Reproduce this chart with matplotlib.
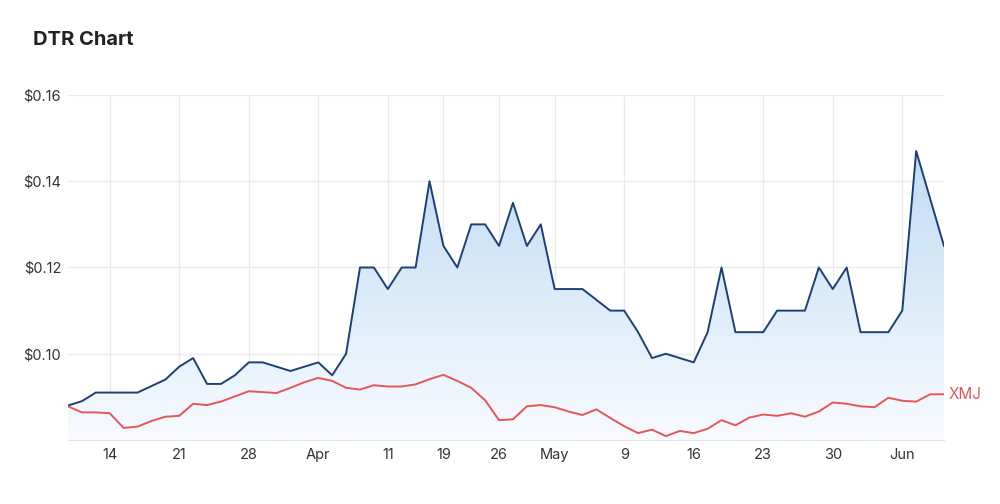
import numpy as np
import matplotlib
matplotlib.use("Agg")
import matplotlib.pyplot as plt
from matplotlib.colors import LinearSegmentedColormap

plt.rcParams['font.family'] = ['Inter', 'DejaVu Sans']

# ASX trading days, 9 Mar 2022 - 9 Jun 2022 (index based x axis)
tick_idx = [3, 8, 13, 18, 23, 27, 31, 35, 40, 45, 50, 55, 60]
tick_labels = ["14", "21", "28", "Apr", "11", "19", "26", "May", "9", "16", "23", "30", "Jun"]

dtr = [0.088, 0.089, 0.091, 0.091, 0.091, 0.091, 0.0925, 0.094, 0.097, 0.099,
       0.093, 0.093, 0.095, 0.098, 0.098, 0.097, 0.096, 0.097, 0.098, 0.095,
       0.100, 0.120, 0.120, 0.115, 0.120, 0.120, 0.140, 0.125, 0.120, 0.130,
       0.130, 0.125, 0.135, 0.125, 0.130, 0.115, 0.115, 0.115, 0.1125, 0.110,
       0.110, 0.105, 0.099, 0.100, 0.099, 0.098, 0.105, 0.120, 0.105, 0.105,
       0.105, 0.110, 0.110, 0.110, 0.120, 0.115, 0.120, 0.105, 0.105, 0.105,
       0.110, 0.147, 0.136, 0.125]

xmj = [0.0878, 0.0864, 0.0864, 0.0862, 0.0828, 0.0831, 0.0844, 0.0854, 0.0856, 0.0884,
       0.0881, 0.0889, 0.0901, 0.0913, 0.0911, 0.0909, 0.0921, 0.0934, 0.0944, 0.0937,
       0.0921, 0.0917, 0.0927, 0.0924, 0.0924, 0.0929, 0.0941, 0.0951, 0.0937, 0.0921,
       0.0892, 0.0846, 0.0848, 0.0878, 0.0881, 0.0876, 0.0866, 0.0858, 0.0871, 0.0851,
       0.0832, 0.0816, 0.0824, 0.0809, 0.0821, 0.0816, 0.0826, 0.0846, 0.0834, 0.0852,
       0.0859, 0.0856, 0.0862, 0.0854, 0.0866, 0.0887, 0.0884, 0.0878, 0.0876, 0.0898,
       0.0891, 0.0889, 0.0906, 0.0906]

y_ticks = [0.10, 0.12, 0.14, 0.16]
y_labels = ["$0.10", "$0.12", "$0.14", "$0.16"]

x = np.arange(len(dtr))

fig = plt.figure(figsize=(10, 5.04), dpi=100)
ax = fig.add_axes([0.068, 0.127, 0.876, 0.6845])
ymin, ymax = 0.08, 0.16
ax.set_xlim(0, len(dtr) - 1)
ax.set_ylim(ymin, ymax)

# gradient fill under DTR
poly = ax.fill_between(x, dtr, ymin, facecolor='none', edgecolor='none')
cmap = LinearSegmentedColormap.from_list('g', [(248/255, 251/255, 1.0), (192/255, 220/255, 244/255)])
top = max(dtr)
grad = np.linspace(0, 1, 256).reshape(-1, 1)
im = ax.imshow(grad, cmap=cmap, aspect='auto', origin='lower',
               extent=[0, len(dtr) - 1, ymin, top], zorder=1)
path = poly.get_paths()[0]
im.set_clip_path(path, transform=ax.transData)

ax.plot(x, dtr, color='#1d3f77', lw=1.4, zorder=3)
ax.plot(x, xmj, color='#e55757', lw=1.4, zorder=3)
ax.text(len(dtr) - 1 + 0.3, xmj[-1], "XMJ", color='#e55757', fontsize=11,
        va='center', ha='left', clip_on=False)

ax.set_xticks(tick_idx)
ax.set_xticklabels(tick_labels)
ax.set_yticks(y_ticks)
ax.set_yticklabels(y_labels)
ax.tick_params(axis='both', length=0, labelsize=10.5, colors='#333333')
ax.tick_params(axis='x', pad=6)
ax.tick_params(axis='y', pad=5)
ax.grid(True, color='#ebebeb', lw=1, zorder=0)
ax.set_axisbelow(True)
for s in ['top', 'right', 'left']:
    ax.spines[s].set_visible(False)
ax.spines['bottom'].set_color('#e3e3e3')

fig.text(0.033, 0.921, "DTR Chart", fontsize=14.5, fontweight='bold', color='#222222',
         ha='left', va='center')

fig.savefig("out.png", dpi=100, facecolor='white')
